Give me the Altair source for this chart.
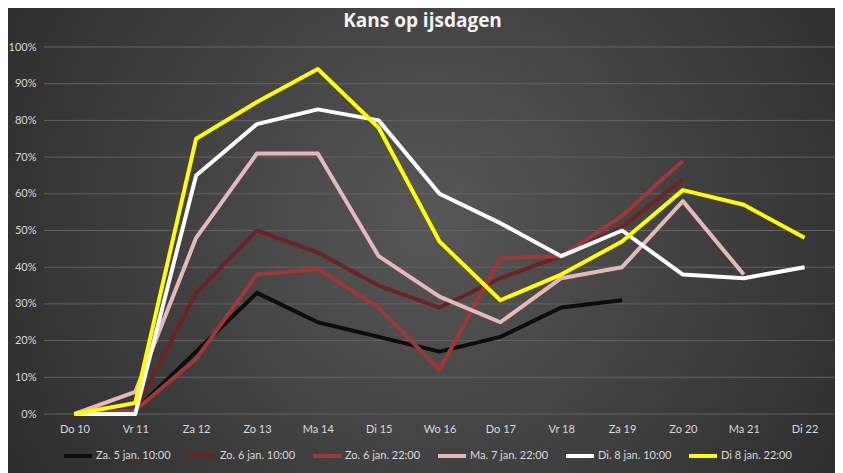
import pandas as pd
import altair as alt

# x categories (days)
days = ["Do 10", "Vr 11", "Za 12", "Zo 13", "Ma 14", "Di 15", "Wo 16",
        "Do 17", "Vr 18", "Za 19", "Zo 20", "Ma 21", "Di 22"]

# forecast runs (legend order)
series_names = ["Za. 5 jan. 10:00", "Zo. 6 jan. 10:00", "Zo. 6 jan. 22:00",
                "Ma. 7 jan. 22:00", "Di. 8 jan. 10:00", "Di 8 jan. 22:00"]
series_colors = ["#0d0d0d", "#6b2323", "#a03838", "#e6b9b8", "#ffffff", "#ffff00"]

# chance of an ice day, per run (None = no forecast)
za5_1000 = [0.00, 0.01, 0.17, 0.33, 0.25, 0.21, 0.17, 0.21, 0.29, 0.31, None, None, None]
zo6_1000 = [0.00, 0.01, 0.33, 0.50, 0.44, 0.35, 0.29, 0.37, 0.43, 0.51, 0.64, None, None]
zo6_2200 = [0.00, 0.01, 0.15, 0.38, 0.395, 0.29, 0.12, 0.425, 0.43, 0.54, 0.69, None, None]
ma7_2200 = [0.00, 0.06, 0.48, 0.71, 0.71, 0.43, 0.32, 0.25, 0.37, 0.40, 0.58, 0.38, None]
di8_1000 = [0.00, 0.00, 0.65, 0.79, 0.83, 0.80, 0.60, 0.52, 0.43, 0.50, 0.38, 0.37, 0.40]
di8_2200 = [0.00, 0.03, 0.75, 0.85, 0.94, 0.78, 0.47, 0.31, 0.38, 0.47, 0.61, 0.57, 0.48]

y_ticks = [0.0, 0.1, 0.2, 0.3, 0.4, 0.5, 0.6, 0.7, 0.8, 0.9, 1.0]

rows = []
for name, vals in zip(series_names, [za5_1000, zo6_1000, zo6_2200, ma7_2200, di8_1000, di8_2200]):
    for d, v in zip(days, vals):
        if v is not None:
            rows.append({"day": d, "series": name, "value": v})
df = pd.DataFrame(rows)

W, H = 791, 367
FONT = "Lato"

y_axis = alt.Axis(format=".0%", values=y_ticks, grid=False, ticks=False,
                  domain=False, labelPadding=8, labelColor="#d9d9d9",
                  labelFontSize=11, labelFont=FONT, zindex=1)

# dark radial background over the whole canvas
bg = alt.Chart(pd.DataFrame({"a": [0]})).mark_rect(
    fill=alt.RadialGradient(
        gradient="radial",
        stops=[alt.GradientStop(offset=0, color="#575757"),
               alt.GradientStop(offset=1, color="#2a2a2a")],
        x1=0.5, y1=0.47, x2=0.5, y2=0.47, r1=0, r2=0.62,
    )
).encode(x=alt.value(-36), x2=alt.value(W + 20), y=alt.value(-39), y2=alt.value(H + 70))

grid = alt.Chart(pd.DataFrame({"tick": y_ticks})).mark_rule(
    color="#646464", strokeWidth=1
).encode(y=alt.Y("tick:Q", title=None, scale=alt.Scale(domain=[0, 1]), axis=y_axis))

lines = alt.Chart(df).mark_line(strokeWidth=4, strokeJoin="round").encode(
    x=alt.X("day:N", sort=days, title=None,
            scale=alt.Scale(type="point", padding=0.5),
            axis=alt.Axis(labelAngle=0, ticks=False, domain=False, labelPadding=9,
                          labelColor="#d9d9d9", labelFontSize=11, labelFont=FONT,
                          zindex=1)),
    y=alt.Y("value:Q", title=None, scale=alt.Scale(domain=[0, 1]), axis=y_axis),
    color=alt.Color("series:N", sort=series_names,
                    scale=alt.Scale(domain=series_names, range=series_colors),
                    legend=alt.Legend(orient="none", legendX=18, legendY=393,
                                      direction="horizontal", title=None,
                                      symbolType="stroke", symbolSize=784,
                                      symbolStrokeWidth=4, labelOffset=2,
                                      columnPadding=9, labelColor="#d9d9d9",
                                      labelFontSize=11, labelFont=FONT, zindex=1)),
)

chart = alt.layer(bg, grid, lines).properties(
    width=W,
    height=H,
    autosize=alt.AutoSizeParams(type="none"),
    padding={"left": 36, "top": 39, "right": 0, "bottom": 59},
    background="#2b2b2b",
    title=alt.TitleParams("Kans op ijsdagen", font="Open Sans", fontSize=19,
                          fontWeight="bold", color="#f2f2f2", anchor="middle",
                          frame="group", offset=-23, dx=-17, zindex=1),
).configure_view(stroke=None)

chart.save("out.html", embed_options={"renderer": "svg", "actions": False})
